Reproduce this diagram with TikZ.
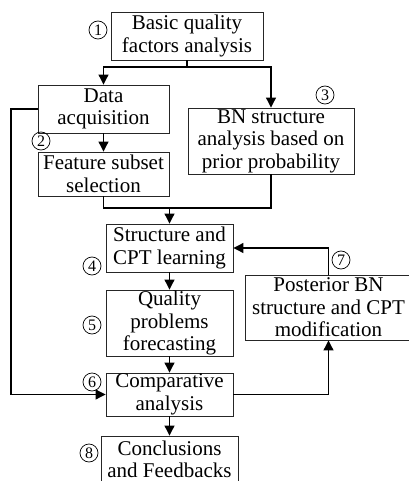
\documentclass[tikz,border=0pt]{standalone}
\usepackage{fontspec}
\setmainfont{Liberation Serif}
\newfontfamily\tnr{Liberation Serif}
\usetikzlibrary{arrows.meta}
\begin{document}
\begin{tikzpicture}[x=1pt,y=-1pt,
  box/.style={draw=black!85, line width=0.9pt, inner sep=0pt, align=center,
    font=\tnr\fontsize{21}{22.5}\selectfont},
  conn/.style={draw=black, line width=1.1pt},
  arr/.style={conn, -{Triangle[length=10pt,width=10pt]}},
  num/.style={draw=black, circle, line width=0.7pt, inner sep=0pt, minimum size=18pt,
    font=\tnr\fontsize{16}{16}\selectfont},
  every node/.append style={}]
\useasboundingbox (0,0) rectangle (408,481);
% boxes
\node[box, minimum width=152pt, minimum height=48pt] (b1) at (187,36) {Basic quality\\factors analysis};
\node[box, minimum width=131pt, minimum height=48pt] (data) at (103.5,109) {Data\\acquisition};
\node[box, minimum width=131pt, minimum height=44pt] (feat) at (103.5,174) {Feature subset\\selection};
\node[box, minimum width=166pt, minimum height=66pt] (bn) at (271,141) {BN structure\\analysis based on\\prior probability};
\node[box, minimum width=127pt, minimum height=48pt] (struct) at (169.5,248) {Structure and\\CPT learning};
\node[box, minimum width=127pt, minimum height=66pt] (qual) at (169.5,323) {Quality\\problems\\forecasting};
\node[box, minimum width=127pt, minimum height=43pt] (comp) at (169.5,394.5) {Comparative\\analysis};
\node[box, minimum width=137pt, minimum height=47pt] (concl) at (169.5,459.5) {Conclusions\\and Feedbacks};
\node[box, minimum width=167pt, minimum height=65pt] (post) at (328.5,307.5) {Posterior BN\\structure and CPT\\modification};
% numbers
\node[num] (n1) at (98,30) {1};
\node[num] (n2) at (41,141) {2};
\node[num] (n3) at (325,95) {3};
\node[num] (n4) at (92,266) {4};
\node[num] (n5) at (92,325) {5};
\node[num] (n6) at (92,382) {6};
\node[num] (n7) at (341,260) {7};
\node[num] (n8) at (89,453) {8};
% connectors
\coordinate (j1) at (187,67);
\coordinate (j2) at (169.5,208);
\coordinate (lft) at (11,109);
\draw[conn] (b1.south) -- (j1);
\draw[arr] (j1) -| (data.north);
\draw[arr] (j1) -| (bn.north);
\draw[arr] (data.south) -- (feat.north);
\draw[conn] (feat.south) |- (j2);
\draw[conn] (bn.south) |- (j2);
\draw[arr] (j2) -- (struct.north);
\draw[arr] (struct.south) -- (qual.north);
\draw[arr] (qual.south) -- (comp.north);
\draw[arr] (comp.south) -- (concl.north);
\draw[arr] (data.west) -- (lft) |- (comp.west);
\draw[arr] (comp.east) -| (post.south);
\draw[arr] (post.north) |- (struct.east);
\end{tikzpicture}
\end{document}
